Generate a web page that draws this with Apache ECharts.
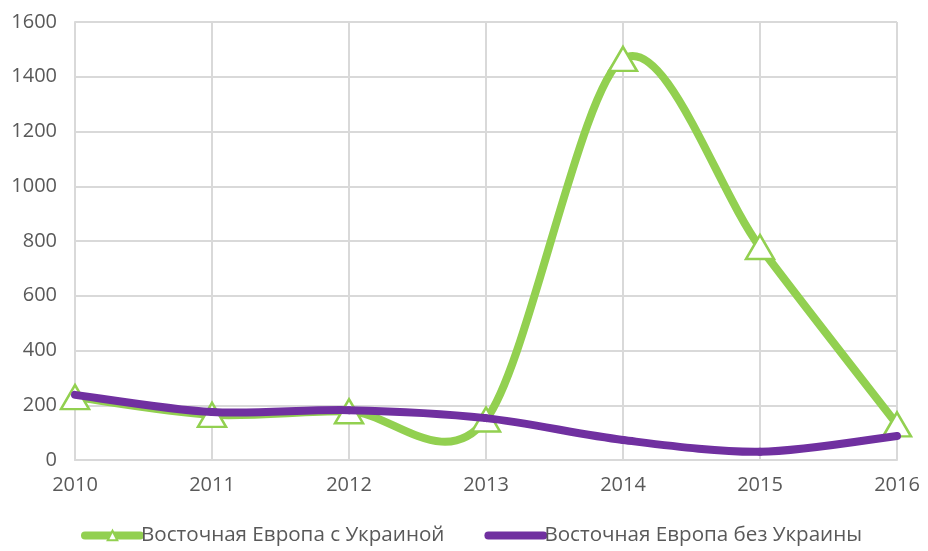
<!DOCTYPE html>
<html>
<head>
<meta charset="utf-8">
<script src="https://cdn.jsdelivr.net/npm/echarts@6/dist/echarts.min.js"></script>
<style>
  html, body { margin: 0; padding: 0; background: #fff; }
  #container { width: 928px; height: 551px; }
</style>
</head>
<body>
<div id="container"></div>
<script>
const years = ['2010', '2011', '2012', '2013', '2014', '2015', '2016']
const withUkraine = [230, 165, 178, 148, 1465, 778, 130]
const withoutUkraine = [238, 175, 182, 153, 73, 30, 88]
const seriesNames = ['Восточная Европа с Украиной', 'Восточная Европа без Украины']

const green = '#92d050'
const purple = '#7030a0'
const textColor = '#595959'
const gridColor = '#d9d9d9'
const font = 'Open Sans'

// excel-like smooth curve: one bezier piece per segment, control points from the neighbours
function curveItem(values, color) {
  return function (params, api) {
    const i = params.dataIndex
    const n = values.length
    if (i >= n - 1) return null
    const pt = k => {
      const j = Math.min(Math.max(k, 0), n - 1)
      return api.coord([j, values[j]])
    }
    const p0 = pt(i - 1)
    const p1 = pt(i)
    const p2 = pt(i + 1)
    const p3 = pt(i + 2)
    const t = 1 / 6.5
    return {
      type: 'bezierCurve',
      shape: {
        x1: p1[0], y1: p1[1],
        x2: p2[0], y2: p2[1],
        cpx1: p1[0] + (p2[0] - p0[0]) * t,
        cpy1: p1[1] + (p2[1] - p0[1]) * t,
        cpx2: p2[0] - (p3[0] - p1[0]) * t,
        cpy2: p2[1] - (p3[1] - p1[1]) * t
      },
      style: { stroke: color, lineWidth: 8, fill: null, lineCap: 'round' }
    }
  }
}

const chart = echarts.init(document.getElementById('container'))
chart.setOption({
  animation: false,
  grid: {
    left: 75,
    right: 31,
    top: 22,
    bottom: 91
  },
  legend: {
    bottom: 0,
    left: 76,
    itemWidth: 55,
    itemHeight: 12,
    itemGap: 40,
    lineStyle: { width: 8, opacity: 1, cap: 'round' },
    textStyle: {
      color: textColor,
      fontSize: 20.6,
      fontFamily: font,
      padding: [0, 0, 0, -4]
    },
    data: [
      { name: seriesNames[0] },
      { name: seriesNames[1], itemStyle: { opacity: 0 } }
    ]
  },
  xAxis: {
    type: 'category',
    data: years,
    boundaryGap: false,
    axisLine: { lineStyle: { color: gridColor, width: 2 } },
    axisTick: { show: false },
    splitLine: { show: true, lineStyle: { color: gridColor, width: 2 } },
    axisLabel: {
      color: textColor,
      fontSize: 20,
      fontFamily: font,
      margin: 15
    }
  },
  yAxis: {
    type: 'value',
    min: 0,
    max: 1600,
    interval: 200,
    axisLine: { show: true, lineStyle: { color: gridColor, width: 2 } },
    axisTick: { show: false },
    splitLine: { lineStyle: { color: gridColor, width: 2 } },
    axisLabel: {
      color: textColor,
      fontSize: 20,
      fontFamily: font,
      margin: 18,
      formatter: v => String(v)
    }
  },
  series: [
    {
      name: 'green-curve',
      type: 'custom',
      data: withUkraine.map((v, i) => [i, v]),
      renderItem: curveItem(withUkraine, green),
      clip: false,
      silent: true,
      z: 1
    },
    {
      name: seriesNames[0],
      type: 'line',
      data: withUkraine,
      symbol: 'triangle',
      symbolSize: [28, 24],
      showAllSymbol: true,
      lineStyle: { color: green, width: 8, opacity: 0 },
      itemStyle: { color: '#fff', borderColor: green, borderWidth: 2.5 },
      z: 2
    },
    {
      name: seriesNames[1],
      type: 'line',
      data: withoutUkraine,
      symbol: 'circle',
      symbolSize: 0,
      lineStyle: { color: purple, width: 8, opacity: 0 },
      itemStyle: { color: purple },
      z: 2
    },
    {
      name: 'purple-curve',
      type: 'custom',
      data: withoutUkraine.map((v, i) => [i, v]),
      renderItem: curveItem(withoutUkraine, purple),
      clip: false,
      silent: true,
      z: 3
    }
  ]
})
</script>
</body>
</html>
